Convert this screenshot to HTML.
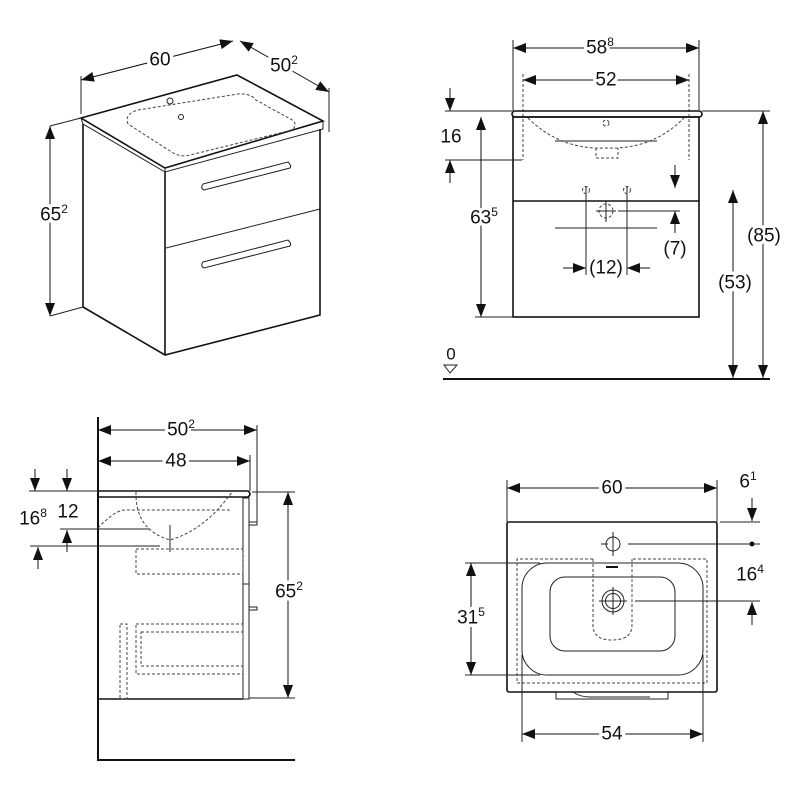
<!DOCTYPE html>
<html><head><meta charset="utf-8"><style>
html,body{margin:0;padding:0;background:#fff;}
svg{display:block;}
text{font-family:"Liberation Sans",sans-serif;font-size:19px;fill:#111;paint-order:stroke;stroke:#fff;stroke-width:7px;stroke-linejoin:round;text-anchor:middle;dominant-baseline:central;}
tspan.s{font-size:12px;stroke:none;}
.l{stroke:#222;stroke-width:1;fill:none;}
.t{stroke:#111;stroke-width:1.6;fill:none;}
.d{stroke:#444;stroke-width:1;fill:none;stroke-dasharray:3 2;}
.a{stroke:#111;stroke-width:1;fill:none;marker-start:url(#ar);marker-end:url(#ar);}
.e{stroke:#111;stroke-width:1;fill:none;marker-end:url(#ar);}
</style></head><body>
<svg width="800" height="800" viewBox="0 0 800 800" xmlns="http://www.w3.org/2000/svg">
<defs>
<marker id="ar" markerUnits="userSpaceOnUse" markerWidth="14" markerHeight="10" refX="13" refY="5" orient="auto-start-reverse">
<path d="M0,0 L13,5 L0,10 Z" fill="#111"/></marker>
</defs>

<!-- VIEW 1 isometric -->
<line class="l" x1="81" y1="76" x2="81" y2="114"/>
<line class="l" x1="329" y1="88" x2="329" y2="132"/>
<line class="a" x1="81" y1="80" x2="233" y2="41"/>
<text x="160" y="60">60</text>
<line class="a" x1="240" y1="41" x2="329" y2="92"/>
<text x="284" y="66">50<tspan class="s" dy="-6">2</tspan></text>
<path class="t" d="M81,118 L237,75 L323,121 L165,168 Z" stroke-width="1.2"/>
<path class="l" d="M81,118 L83,124 L165,172 L323,129 L323,121"/>
<path class="l" d="M165,168 L165,172"/>
<path class="d" d="M128,124 Q124,114 138,110 L238,94 Q250,93 256,100 L294,121 Q298,128 288,131 L190,155 Q180,158 170,151 Z" stroke="#777"/>
<circle class="l" cx="170" cy="101" r="3"/>
<circle class="l" cx="181" cy="117" r="2.5"/>
<path class="t" d="M83,124 L83,307 L165,355 L320,315 L320,129"/>
<line class="t" x1="165" y1="172" x2="165" y2="355"/>
<line class="l" x1="166" y1="248" x2="320" y2="209"/>
<path class="l" d="M203,184 L288,162 Q292,166 290,168 L204,190 Q200,188 203,184 Z"/>
<path class="l" d="M203,262 L288,240 Q292,244 290,246 L204,268 Q200,266 203,262 Z"/>
<line class="a" x1="50" y1="126" x2="50" y2="316"/>
<line class="l" x1="50" y1="126" x2="81" y2="118"/>
<line class="l" x1="50" y1="316" x2="83" y2="307"/>
<text x="54" y="215">65<tspan class="s" dy="-6">2</tspan></text>

<!-- VIEW 2 front -->
<line class="l" x1="513" y1="40" x2="513" y2="112"/>
<line class="l" x1="699" y1="40" x2="699" y2="110"/>
<line class="a" x1="513" y1="48" x2="699" y2="48"/>
<text x="600" y="48">58<tspan class="s" dy="-6">8</tspan></text>
<line class="d" x1="523" y1="74" x2="523" y2="160"/>
<line class="d" x1="689" y1="74" x2="689" y2="160"/>
<line class="a" x1="523" y1="80" x2="689" y2="80"/>
<text x="606" y="80">52</text>
<rect x="512" y="111" width="190" height="6" rx="3" class="t" stroke-width="1.3"/>
<rect class="t" x="513" y="117" width="186" height="200" stroke-width="1.3"/>
<line class="t" x1="513" y1="201" x2="699" y2="201" stroke-width="1.3"/>
<path class="d" d="M528,118 Q560,150 606,148 Q652,150 684,118"/>
<line class="l" x1="555" y1="141" x2="657" y2="141"/>
<path class="d" d="M596,148 L596,158 L618,158 L618,148"/>
<circle class="d" cx="606" cy="123" r="3"/>
<line class="l" x1="445" y1="111" x2="512" y2="111"/>
<line class="l" x1="445" y1="160" x2="522" y2="160"/>
<line class="e" x1="450" y1="88" x2="450" y2="111"/>
<line class="e" x1="450" y1="183" x2="450" y2="160"/>
<text x="451" y="137">16</text>
<line class="l" x1="475" y1="317" x2="513" y2="317"/>
<line class="a" x1="481" y1="117" x2="481" y2="317"/>
<text x="484" y="218">63<tspan class="s" dy="-6">5</tspan></text>
<line class="l" x1="702" y1="111" x2="770" y2="111"/>
<line class="a" x1="763" y1="111" x2="763" y2="378"/>
<text x="764" y="236">(85)</text>
<line class="a" x1="733" y1="190" x2="733" y2="378"/>
<text x="735" y="283">(53)</text>
<line x1="443" y1="379" x2="770" y2="379" stroke="#111" stroke-width="2"/>
<text x="451" y="354" style="font-size:17px">0</text>
<path class="l" d="M444,365 L457,365 L450,373 Z"/>
<line class="e" x1="675" y1="165" x2="675" y2="188"/>
<line class="l" x1="618" y1="211" x2="680" y2="211"/>
<line class="e" x1="675" y1="233" x2="675" y2="211"/>
<text x="675" y="249">(7)</text>
<circle class="d" cx="586" cy="190" r="3.5"/>
<circle class="d" cx="627" cy="190" r="3.5"/>
<circle class="d" cx="606" cy="211" r="7"/>
<line class="l" x1="606" y1="201" x2="606" y2="222"/>
<line class="l" x1="596" y1="211" x2="616" y2="211"/>
<line class="l" x1="555" y1="228" x2="657" y2="228" stroke-width="1.5"/>
<line class="l" x1="586" y1="186" x2="586" y2="275"/>
<line class="l" x1="627" y1="186" x2="627" y2="275"/>
<line class="e" x1="563" y1="268" x2="586" y2="268"/>
<line class="e" x1="650" y1="268" x2="627" y2="268"/>
<text x="606" y="268">(12)</text>

<!-- VIEW 3 side -->
<line x1="98" y1="417" x2="98" y2="761" stroke="#111" stroke-width="2"/>
<line x1="98" y1="760" x2="295" y2="760" stroke="#111" stroke-width="2"/>
<line class="l" x1="257" y1="425" x2="257" y2="525"/>
<path class="l" d="M249,525 L257,525"/>
<line class="l" x1="250" y1="455" x2="250" y2="491"/>
<line class="a" x1="98" y1="430" x2="257" y2="430"/>
<text x="181" y="430">50<tspan class="s" dy="-6">2</tspan></text>
<line class="a" x1="98" y1="461" x2="250" y2="461"/>
<text x="176" y="461">48</text>
<path class="t" d="M98,491 L248,491 Q252,494 248,497 L98,497" stroke-width="1.3"/>
<path class="t" d="M98,497 L98,699 L243,699"/>
<rect class="l" x="243" y="498" width="6" height="201"/>
<line class="l" x1="243" y1="584" x2="249" y2="584"/>
<rect class="l" x="249" y="522" width="8" height="3"/>
<rect class="l" x="249" y="607" width="8" height="3"/>
<path class="d" d="M136,492 Q135,530 170,540 Q205,530 232,492"/>
<path class="d" d="M98,528 Q115,510 125,510 L230,510"/>
<line class="l" x1="170" y1="525" x2="170" y2="552" stroke-width="1.5"/>
<rect class="d" x="136" y="549" width="107" height="25"/>
<rect class="d" x="120" y="624" width="7" height="75"/>
<rect class="d" x="136" y="624" width="107" height="50"/>
<rect class="d" x="141" y="632" width="102" height="34"/>
<line class="l" x1="29" y1="491" x2="98" y2="491"/>
<line class="e" x1="35" y1="469" x2="35" y2="491"/>
<line class="e" x1="67" y1="469" x2="67" y2="491"/>
<text x="33" y="519">16<tspan class="s" dy="-6">8</tspan></text>
<text x="68" y="512">12</text>
<line class="l" x1="60" y1="529" x2="150" y2="529"/>
<line class="e" x1="67" y1="552" x2="67" y2="530"/>
<line class="l" x1="30" y1="546" x2="160" y2="546"/>
<line class="e" x1="38" y1="569" x2="38" y2="547"/>
<line class="l" x1="252" y1="492" x2="295" y2="492"/>
<line class="l" x1="249" y1="698" x2="295" y2="698"/>
<line class="a" x1="288" y1="492" x2="288" y2="698"/>
<text x="289" y="592">65<tspan class="s" dy="-6">2</tspan></text>

<!-- VIEW 4 top -->
<line class="l" x1="507" y1="480" x2="507" y2="522"/>
<line class="l" x1="717" y1="480" x2="717" y2="522"/>
<line class="a" x1="507" y1="488" x2="717" y2="488"/>
<text x="612" y="488">60</text>
<rect x="507" y="522" width="210" height="170" rx="2" class="t" stroke-width="1.3"/>
<rect x="556" y="692" width="112" height="7" class="l"/>
<path class="l" d="M573,692 Q580,697 590,697 L650,697"/>
<text x="748" y="482">6<tspan class="s" dy="-6">1</tspan></text>
<line class="e" x1="752" y1="498" x2="752" y2="521"/>
<line class="l" x1="720" y1="522" x2="760" y2="522"/>
<circle class="l" cx="613" cy="544" r="7"/>
<line class="l" x1="613" y1="532" x2="613" y2="556"/>
<line class="l" x1="601" y1="544" x2="608" y2="544"/>
<line class="l" x1="628" y1="544" x2="760" y2="544"/>
<circle cx="752" cy="544" r="2.5" fill="#111"/>
<text x="750" y="575">16<tspan class="s" dy="-6">4</tspan></text>
<line class="l" x1="635" y1="601" x2="760" y2="601"/>
<line class="e" x1="752" y1="625" x2="752" y2="602"/>
<path class="d" d="M593,559 L517,559 L517,683 L707,683 L707,559 L632,559"/>
<path class="d" d="M593,559 L593,625 Q593,640 612,640 Q632,640 632,625 L632,559"/>
<rect x="522" y="563" width="181" height="112" rx="25" class="l"/>
<rect x="550" y="577" width="125" height="74" rx="15" class="l"/>
<line x1="606" y1="567" x2="618" y2="567" stroke="#111" stroke-width="2"/>
<circle class="l" cx="613" cy="601" r="11"/>
<circle class="l" cx="613" cy="601" r="7.5"/>
<line class="l" x1="613" y1="587" x2="613" y2="615"/>
<line class="l" x1="599" y1="601" x2="627" y2="601"/>
<line class="l" x1="465" y1="563" x2="540" y2="563"/>
<line class="l" x1="465" y1="675" x2="540" y2="675"/>
<line class="a" x1="471" y1="563" x2="471" y2="675"/>
<text x="471" y="618">31<tspan class="s" dy="-6">5</tspan></text>
<line class="l" x1="522" y1="655" x2="522" y2="742"/>
<line class="l" x1="703" y1="655" x2="703" y2="742"/>
<line class="a" x1="522" y1="734" x2="703" y2="734"/>
<text x="612" y="734">54</text>
</svg>
</body></html>
